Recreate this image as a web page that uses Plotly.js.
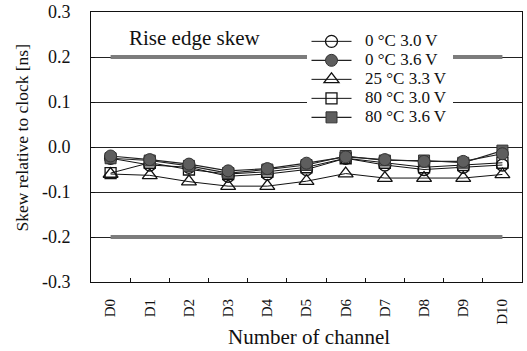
<!DOCTYPE html>
<html>
<head>
<meta charset="utf-8">
<script src="https://cdn.plot.ly/plotly-3.0.1.min.js"></script>
<style>html,body{margin:0;padding:0;background:#fff;}#chart{width:527px;height:351px;}</style>
</head>
<body>
<div id="chart"></div>
<script>
const channels = ['D0','D1','D2','D3','D4','D5','D6','D7','D8','D9','D10'];
const s0C30V  = [-0.025, -0.040, -0.045, -0.065, -0.060, -0.050, -0.025, -0.040, -0.050, -0.045, -0.040];
const s0C36V  = [-0.020, -0.028, -0.038, -0.053, -0.048, -0.036, -0.022, -0.028, -0.032, -0.032, -0.015];
const s25C33V = [-0.060, -0.063, -0.077, -0.087, -0.087, -0.076, -0.059, -0.069, -0.069, -0.069, -0.061];
const s80C30V = [-0.058, -0.035, -0.050, -0.060, -0.055, -0.045, -0.025, -0.035, -0.045, -0.040, -0.035];
const s80C36V = [-0.025, -0.030, -0.042, -0.058, -0.050, -0.040, -0.020, -0.030, -0.030, -0.035, -0.008];
const limitUpper = 0.2;
const limitLower = -0.2;
const seriesNames = ['0 °C 3.0 V','0 °C 3.6 V','25 °C 3.3 V','80 °C 3.0 V','80 °C 3.6 V'];
const yTickVals = [-0.3,-0.2,-0.1,0,0.1,0.2,0.3];
const yTickText = ['-0.3','-0.2','-0.1','0.0','0.1','0.2','0.3'];
const noteText = 'Rise edge skew';
const xTitle = 'Number of channel';
const yTitle = 'Skew relative to clock [ns]';

const serif = "'Liberation Serif', 'Times New Roman', serif";
const limitStyle = {color:'#7c7c7c', width:4};
const lbl = s => '<span style="font-size:17px">\u00a0\u00a0' + s + '</span>';

const mk = {
  c0: {symbol:'circle-open', size:12, color:'#111', line:{width:1.3}},
  c1: {symbol:'circle', size:12, color:'#5e5e5e', line:{color:'#333',width:1}},
  t:  {symbol:'triangle-up-open', size:13, color:'#111', line:{width:1.3}},
  s0: {symbol:'square-open', size:11, color:'#111', line:{width:1.3}},
  s1: {symbol:'square', size:11, color:'#5e5e5e', line:{color:'#333',width:1}}
};

const traces = [
  {x: channels, y: channels.map(()=>limitUpper), mode:'lines', line: limitStyle, showlegend:false, hoverinfo:'skip'},
  {x: channels, y: channels.map(()=>limitLower), mode:'lines', line: limitStyle, showlegend:false, hoverinfo:'skip'},
  {x: channels, y: s0C30V, name: lbl(seriesNames[0]), mode:'lines+markers', line:{color:'#111',width:1}, marker: mk.c0, legendrank: 1},
  {x: channels, y: s80C30V, name: lbl(seriesNames[3]), mode:'lines+markers', line:{color:'#111',width:1}, marker: mk.s0, legendrank: 4},
  {x: channels, y: s25C33V, name: lbl(seriesNames[2]), mode:'lines+markers', line:{color:'#111',width:1}, marker: mk.t, legendrank: 3},
  {x: channels, y: s80C36V, name: lbl(seriesNames[4]), mode:'lines+markers', line:{color:'#222',width:1.2}, marker: mk.s1, legendrank: 5},
  {x: channels, y: s0C36V, name: lbl(seriesNames[1]), mode:'lines+markers', line:{color:'#222',width:1.2}, marker: mk.c1, legendrank: 2}
];

const layout = {
  width: 527, height: 351,
  margin: {l: 91, r: 5, t: 12, b: 69},
  paper_bgcolor: '#fff', plot_bgcolor: '#fff',
  font: {family: serif, size: 16, color: '#111'},
  showlegend: true,
  legend: {x: 0.5, y: 0.945, xanchor: 'left', yanchor: 'top', bgcolor: '#fff',
           font: {family: serif, size: 11, color: '#111'}, tracegroupgap: 0, itemwidth: 40,
           traceorder: 'normal'},
  xaxis: {
    type: 'category', range: [-0.5, 10.5], tickangle: -90,
    showline: true, linecolor: '#111', linewidth: 1, mirror: true,
    ticks: 'inside', ticklen: 4, tickcolor: '#111', tickson: 'boundaries',
    showgrid: false, zeroline: false, ticklabelstandoff: 10,
    tickfont: {family: serif, size: 15, color: '#111'}
  },
  yaxis: {
    range: [-0.3, 0.3], tickvals: yTickVals, ticktext: yTickText,
    showline: true, linecolor: '#111', linewidth: 1, mirror: true,
    ticks: 'inside', ticklen: 4, tickcolor: '#111',
    showgrid: true, gridcolor: '#222', gridwidth: 1, zeroline: false, ticklabelstandoff: 16,
    tickfont: {family: serif, size: 18, color: '#111'}
  },
  annotations: [
    {text: noteText, xref: 'paper', yref: 'paper', x: 0.083, y: 0.904, xanchor: 'left', yanchor: 'middle',
     showarrow: false, font: {family: serif, size: 21, color: '#111'}},
    {text: xTitle, xref: 'paper', yref: 'paper', x: 0.505, y: -0.204, xanchor: 'center', yanchor: 'middle',
     showarrow: false, font: {family: serif, size: 21, color: '#111'}},
    {text: yTitle, xref: 'paper', yref: 'paper', x: -0.16, y: 0.535, xanchor: 'center', yanchor: 'middle',
     textangle: -90, showarrow: false, font: {family: serif, size: 17.5, color: '#111'}}
  ]
};

Plotly.newPlot('chart', traces, layout, {displayModeBar: false, staticPlot: true});
</script>
</body>
</html>
